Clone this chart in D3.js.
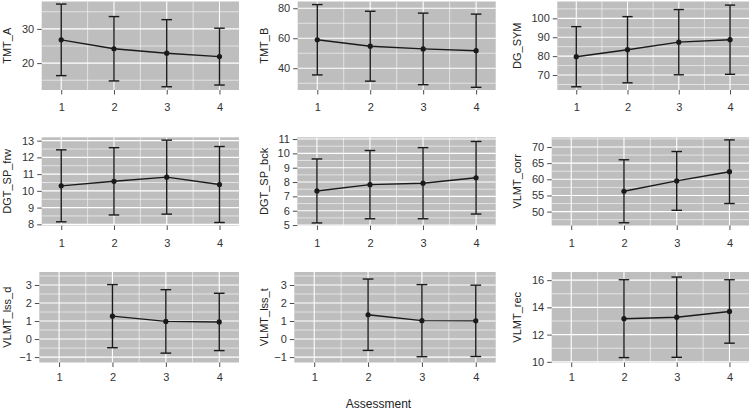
<!DOCTYPE html>
<html>
<head>
<meta charset="utf-8">
<script src="https://cdn.jsdelivr.net/npm/d3@7"></script>
<style>
  html, body { margin: 0; padding: 0; background: #ffffff; }
  svg { display: block; }
  text { font-family: "Liberation Sans", Arial, sans-serif; }
</style>
</head>
<body>
<svg id="chart" width="749" height="411"></svg>
<script>
// ---------------- data ----------------
const assessments = [1, 2, 3, 4];
const measures = ["TMT_A", "TMT_B", "DG_SYM", "DGT_SP_frw", "DGT_SP_bck", "VLMT_corr", "VLMT_lss_d", "VLMT_lss_t", "VLMT_rec"];

const TMT_A_mean = [26.8, 24.2, 22.9, 21.9];
const TMT_A_sd   = [10.45, 9.4, 9.8, 8.3];
const TMT_B_mean = [59.0, 54.7, 52.9, 51.7];
const TMT_B_sd   = [23.45, 23.3, 23.85, 24.4];
const DG_SYM_mean = [79.7, 83.4, 87.4, 88.7];
const DG_SYM_sd   = [15.9, 17.5, 17.25, 18.3];
const DGT_SP_frw_mean = [10.3, 10.57, 10.82, 10.38];
const DGT_SP_frw_sd   = [2.15, 2.01, 2.21, 2.27];
const DGT_SP_bck_mean = [7.38, 7.82, 7.92, 8.3];
const DGT_SP_bck_sd   = [2.23, 2.38, 2.48, 2.53];
const VLMT_corr_mean = [null, 56.3, 59.5, 62.35];
const VLMT_corr_sd   = [null, 9.75, 9.1, 9.85];
const VLMT_lss_d_mean = [null, 1.27, 0.98, 0.95];
const VLMT_lss_d_sd   = [null, 1.75, 1.76, 1.59];
const VLMT_lss_t_mean = [null, 1.35, 1.02, 1.01];
const VLMT_lss_t_sd   = [null, 1.98, 2.0, 1.98];
const VLMT_rec_mean = [null, 13.17, 13.28, 13.7];
const VLMT_rec_sd   = [null, 2.86, 2.95, 2.33];

// y-axis limits and tick labels per panel
const yLimits = [[12.15, 38.0], [25.5, 84.5], [62.1, 108.9], [7.93, 13.2], [4.97, 11.12], [45.7, 73.0], [-1.3, 3.72], [-1.3, 3.72], [9.95, 16.6]];
const yTicks = [
  [20, 30], [40, 60, 80], [70, 80, 90, 100],
  [8, 9, 10, 11, 12, 13], [5, 6, 7, 8, 9, 10, 11], [50, 55, 60, 65, 70],
  [-1, 0, 1, 2, 3], [-1, 0, 1, 2, 3], [10, 12, 14, 16]
];
const xTickLabels = ["1", "2", "3", "4"];
const xTitle = "Assessment";

const meanArrays = [TMT_A_mean, TMT_B_mean, DG_SYM_mean, DGT_SP_frw_mean, DGT_SP_bck_mean, VLMT_corr_mean, VLMT_lss_d_mean, VLMT_lss_t_mean, VLMT_rec_mean];
const sdArrays = [TMT_A_sd, TMT_B_sd, DG_SYM_sd, DGT_SP_frw_sd, DGT_SP_bck_sd, VLMT_corr_sd, VLMT_lss_d_sd, VLMT_lss_t_sd, VLMT_rec_sd];

// ---------------- layout ----------------
const panelLeft = [41.7, 297.7, 557.3, 41.7, 297.3, 551.7, 39.3, 294.3, 551.7];
const colRight = [239, 495.7, 749];
const rowTop = [1.5, 137.3, 272];
const rowBottom = [90, 225.5, 362.5];
const xLabelY = [107.5, 243.3, 377.5];
const yTitleX = [7, 264.5, 517];

const panelFill = "#bebebe";
const markColor = "#1a1a1a";
const tickColor = "#4d4d4d";
const textColor = "#333333";

const svg = d3.select("#chart");
const fmt = v => (v < 0 ? "\u2212" + Math.abs(v) : String(v));

measures.forEach((name, i) => {
  const row = Math.floor(i / 3), col = i % 3;
  const left = panelLeft[i], right = colRight[col];
  const top = rowTop[row], bottom = rowBottom[row];

  const x = d3.scaleLinear().domain([0.63, 4.37]).range([left, right]);
  const y = d3.scaleLinear().domain(yLimits[i]).range([bottom, top]);

  const g = svg.append("g");
  g.append("rect")
    .attr("x", left).attr("y", top)
    .attr("width", right - left).attr("height", bottom - top)
    .attr("fill", panelFill);

  // minor gridlines
  const ticks = yTicks[i];
  const step = ticks[1] - ticks[0];
  const yMinor = [];
  for (let v = ticks[0] - step / 2; v <= yLimits[i][1]; v += step) {
    if (v >= yLimits[i][0]) yMinor.push(v);
  }
  const xMinor = [1.5, 2.5, 3.5];
  const grid = g.append("g");
  grid.selectAll(".hmin").data(yMinor).join("line")
    .attr("x1", left).attr("x2", right)
    .attr("y1", d => y(d)).attr("y2", d => y(d))
    .attr("stroke", "#f2f2f2").attr("stroke-width", 0.7);
  grid.selectAll(".vmin").data(xMinor).join("line")
    .attr("y1", top).attr("y2", bottom)
    .attr("x1", d => x(d)).attr("x2", d => x(d))
    .attr("stroke", "#f2f2f2").attr("stroke-width", 0.7);
  grid.selectAll(".hmaj").data(ticks).join("line")
    .attr("x1", left).attr("x2", right)
    .attr("y1", d => y(d)).attr("y2", d => y(d))
    .attr("stroke", "#ffffff").attr("stroke-width", 1.1);
  grid.selectAll(".vmaj").data(assessments).join("line")
    .attr("y1", top).attr("y2", bottom)
    .attr("x1", d => x(d)).attr("x2", d => x(d))
    .attr("stroke", "#ffffff").attr("stroke-width", 1.1);

  // y axis
  const yAxis = d3.axisLeft(y).tickValues(ticks).tickSize(4.5).tickPadding(3).tickFormat(fmt);
  const ya = g.append("g").attr("transform", `translate(${left},0)`).call(yAxis);
  ya.select(".domain").remove();
  ya.selectAll(".tick line").attr("stroke", tickColor).attr("stroke-width", 1);
  ya.selectAll(".tick text").attr("fill", textColor).attr("font-size", 11)
    .attr("font-family", "Liberation Sans, Arial, sans-serif");

  // x axis
  const xAxis = d3.axisBottom(x).tickValues(assessments).tickSize(4.5).tickFormat((d, k) => xTickLabels[k]);
  const xa = g.append("g").attr("transform", `translate(0,${bottom})`).call(xAxis);
  xa.select(".domain").remove();
  xa.selectAll(".tick line").attr("stroke", tickColor).attr("stroke-width", 1);
  xa.selectAll(".tick text").attr("fill", textColor).attr("font-size", 11)
    .attr("font-family", "Liberation Sans, Arial, sans-serif")
    .attr("y", xLabelY[row] - bottom).attr("dy", "0.35em");

  // y title
  g.append("text")
    .attr("transform", `translate(${yTitleX[col]},${(top + bottom) / 2}) rotate(-90)`)
    .attr("text-anchor", "middle").attr("dy", "0.35em")
    .attr("font-size", 11).attr("fill", "#222222")
    .text(name);

  // data
  const pts = assessments.map((a, k) => ({ a, m: meanArrays[i][k], s: sdArrays[i][k] }))
    .filter(d => d.m !== null);

  g.append("path").datum(pts)
    .attr("fill", "none").attr("stroke", markColor).attr("stroke-width", 1.4)
    .attr("d", d3.line().x(d => x(d.a)).y(d => y(d.m)));

  const capHalf = 0.1;
  const eb = g.append("g").attr("stroke", markColor).attr("stroke-width", 1.4);
  eb.selectAll(".v").data(pts).join("line")
    .attr("x1", d => x(d.a)).attr("x2", d => x(d.a))
    .attr("y1", d => y(d.m - d.s)).attr("y2", d => y(d.m + d.s));
  eb.selectAll(".t").data(pts).join("line")
    .attr("x1", d => x(d.a - capHalf)).attr("x2", d => x(d.a + capHalf))
    .attr("y1", d => y(d.m + d.s)).attr("y2", d => y(d.m + d.s));
  eb.selectAll(".b").data(pts).join("line")
    .attr("x1", d => x(d.a - capHalf)).attr("x2", d => x(d.a + capHalf))
    .attr("y1", d => y(d.m - d.s)).attr("y2", d => y(d.m - d.s));

  g.selectAll(".pt").data(pts).join("circle")
    .attr("cx", d => x(d.a)).attr("cy", d => y(d.m)).attr("r", 2.6)
    .attr("fill", markColor);
});

svg.append("text")
  .attr("x", 378.5).attr("y", 408)
  .attr("text-anchor", "middle")
  .attr("font-size", 12).attr("fill", "#222222")
  .text(xTitle);
</script>
</body>
</html>
